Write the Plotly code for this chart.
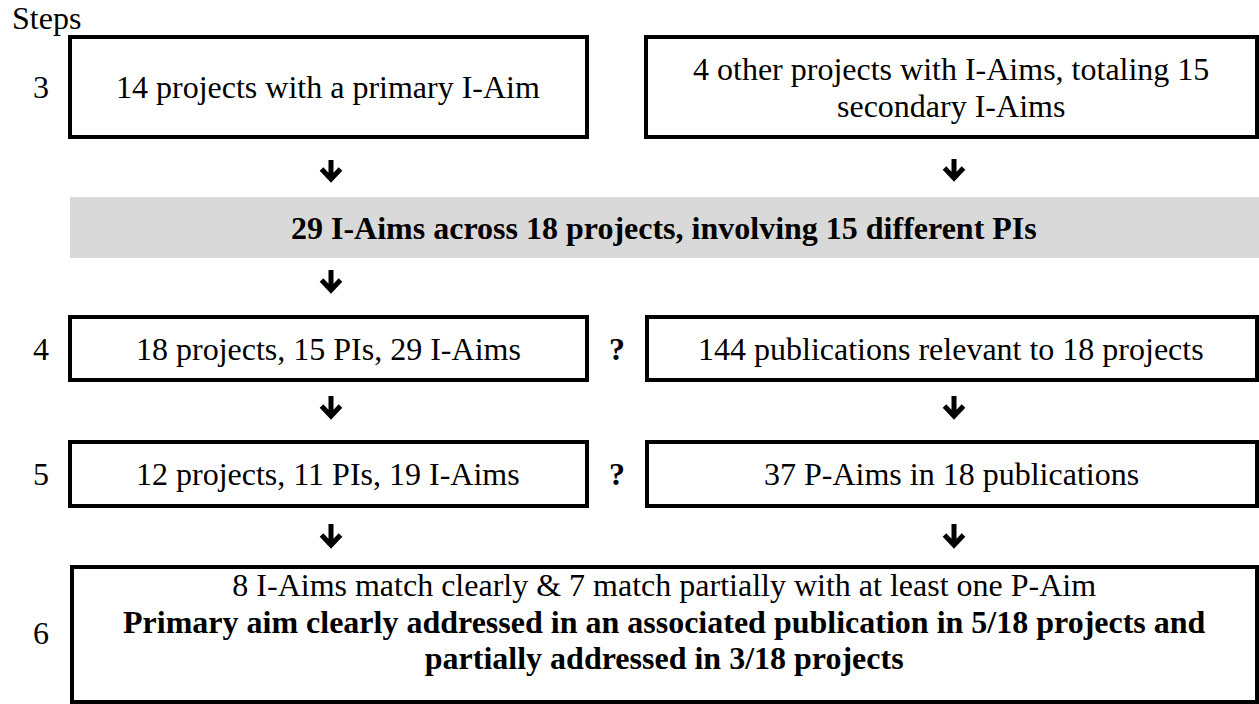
import plotly.graph_objects as go

# ---- content ----
step_labels = ["3", "4", "5", "6"]
header = "Steps"
step3_left = ["14 projects with a primary I-Aim"]
step3_right = ["4 other projects with I-Aims, totaling 15", "secondary I-Aims"]
band_text = "29 I-Aims across 18 projects, involving 15 different PIs"
step4_texts = ["18 projects, 15 PIs, 29 I-Aims",
               "144 publications relevant to 18 projects"]
step5_texts = ["12 projects, 11 PIs, 19 I-Aims",
               "37 P-Aims in 18 publications"]
step6_lines = ["8 I-Aims match clearly &amp; 7 match partially with at least one P-Aim",
               "<b>Primary aim clearly addressed in an associated publication in 5/18 projects and</b>",
               "<b>partially addressed in 3/18 projects</b>"]
link_symbol = "?"

W, H = 1259, 704
FONT = "Liberation Serif, Times New Roman, serif"
FS = 32
LW = 4
PITCH = 36.5

fig = go.Figure()
shapes = []
annotations = []

def box(x0, y0, x1, y1):
    shapes.append(dict(type="rect", xref="x", yref="y", x0=x0, y0=y0, x1=x1, y1=y1,
                       line=dict(color="black", width=LW), fillcolor="white", layer="below"))

def text(x, y, t, size=FS, xanchor="center"):
    annotations.append(dict(x=x, y=y, xref="x", yref="y", text=t, showarrow=False,
                            xanchor=xanchor, yanchor="middle", borderpad=0,
                            font=dict(family=FONT, size=size, color="black")))

def multiline(x, y, lines, spacing):
    # line pitch is 1.3 x the annotation font size; glyphs drawn at FS via span
    body = "<br>".join(f"<span style='font-size:{FS}px'>{ln}</span>" for ln in lines)
    text(x, y, body, size=spacing / 1.3)

def arrow(x, y0, y1):
    shapes.append(dict(type="path", xref="x", yref="y",
                       path=f"M {x} {y0} L {x} {y1-2} M {x-9.5} {y1-10} L {x} {y1} L {x+9.5} {y1-10}",
                       line=dict(color="black", width=5)))

# Steps header
text(11, 18, header, xanchor="left")

# Step 3
box(70, 37, 587, 137)
box(646, 37, 1257, 137)
text(41, 87, step_labels[0])
text(328, 87, step3_left[0])
multiline(951, 87, step3_right, PITCH)
arrow(331, 160, 179)
arrow(954, 159, 178)

# Band
shapes.append(dict(type="rect", xref="x", yref="y", x0=70, y0=197, x1=1259, y1=258,
                   line=dict(width=0), fillcolor="#d9d9d9", layer="below"))
text(664, 228, "<b>" + band_text + "</b>")
arrow(331, 270, 290)

# Step 4
box(70, 317, 587, 380)
box(647, 317, 1257, 380)
text(41, 349, step_labels[1])
text(328, 349, step4_texts[0])
text(951, 349, step4_texts[1])
text(617, 349, "<b>" + link_symbol + "</b>")
arrow(331, 396, 416)
arrow(954, 396, 416)

# Step 5
box(70, 442, 587, 506)
box(647, 442, 1257, 506)
text(41, 474, step_labels[2])
text(328, 474, step5_texts[0])
text(951, 474, step5_texts[1])
text(617, 474, "<b>" + link_symbol + "</b>")
arrow(331, 524, 545)
arrow(954, 524, 545)

# Step 6
box(72, 567, 1257, 702)
text(41, 633, step_labels[3])
multiline(664, 621, step6_lines, PITCH)

fig.update_layout(
    width=W, height=H,
    margin=dict(l=0, r=0, t=0, b=0),
    paper_bgcolor="white", plot_bgcolor="white",
    xaxis=dict(range=[0, W], visible=False, fixedrange=True),
    yaxis=dict(range=[H, 0], visible=False, fixedrange=True),
    shapes=shapes, annotations=annotations, showlegend=False,
)
fig.write_html("out.html", config={"displayModeBar": False},
               post_script="document.body.style.margin='0';document.body.style.overflow='hidden';")
